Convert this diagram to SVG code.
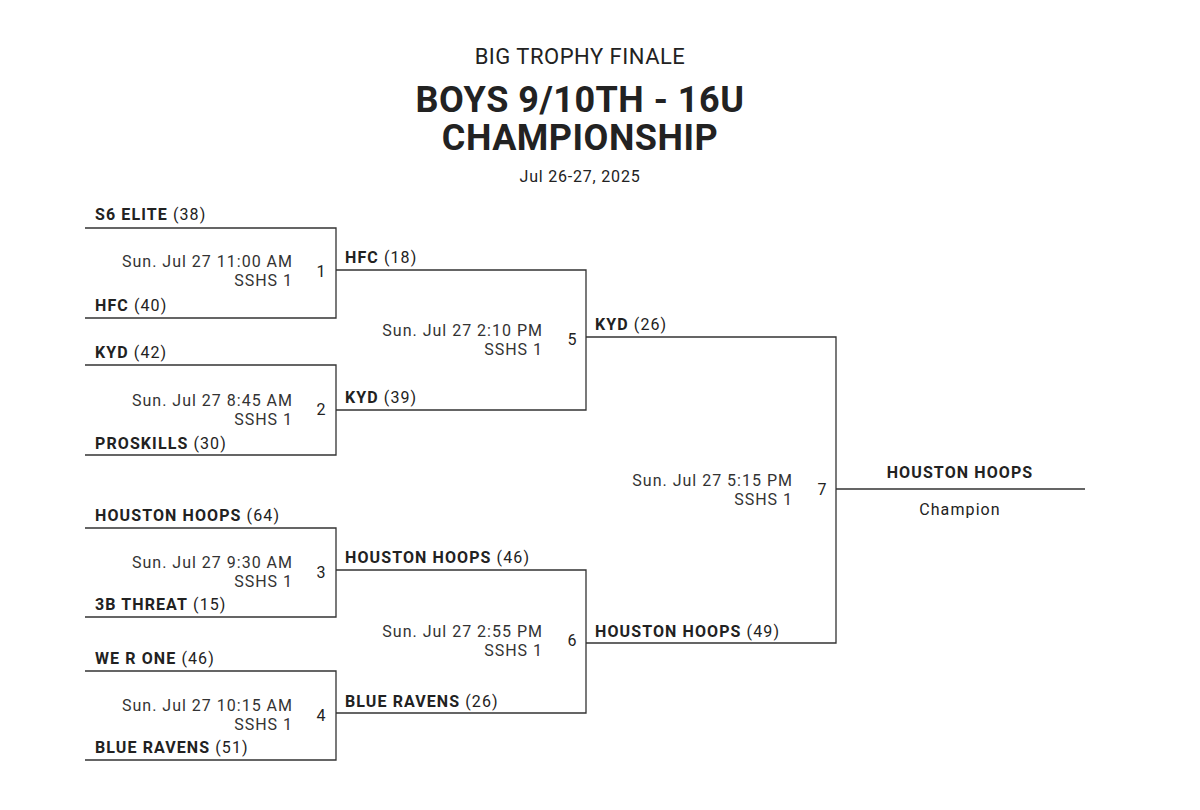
<svg xmlns="http://www.w3.org/2000/svg" width="1200" height="810" viewBox="0 0 1200 810">
<style>
text{font-family:Roboto,"Liberation Sans",sans-serif;fill:#222}
.t{font-size:16px;letter-spacing:1.1px}
.b{font-weight:bold}
.d{font-size:16px;letter-spacing:1px;text-anchor:end;fill:#333}
.n{font-size:16px;text-anchor:middle}
.l{fill:none;stroke:#333;stroke-width:1.3}
</style>
<rect width="1200" height="810" fill="#fff"/>
<g id="title">
<text x="580" y="64" font-size="22" text-anchor="middle" letter-spacing="0.5">BIG TROPHY FINALE</text>
<text x="580" y="112" font-size="36" font-weight="bold" text-anchor="middle" letter-spacing="0.5">BOYS 9/10TH - 16U</text>
<text x="580" y="150" font-size="36" font-weight="bold" text-anchor="middle" letter-spacing="0.5">CHAMPIONSHIP</text>
<text x="580" y="182" font-size="16" text-anchor="middle" fill="#444" letter-spacing="0.8">Jul 26-27, 2025</text>
</g>
<g id="connectors">
<path class="l" d="M85 228H336V318H85M336 270H586V410H336M85 365H336V455H85"/>
<path class="l" d="M85 528H336V617H85M336 570H586V713H336M85 671H336V760H85"/>
<path class="l" d="M586 337H836V643H586M836 489H1085"/>
</g>
<g id="m1">
<text class="t" x="95" y="220"><tspan class="b">S6 ELITE</tspan> (38)</text>
<text class="t" x="95" y="311"><tspan class="b">HFC</tspan> (40)</text>
<text class="d" x="293" y="267">Sun. Jul 27 11:00 AM</text><text class="d" x="293" y="286">SSHS 1</text>
<text class="n" x="321" y="277">1</text>
</g>
<g id="m2">
<text class="t" x="95" y="358"><tspan class="b">KYD</tspan> (42)</text>
<text class="t" x="95" y="449"><tspan class="b">PROSKILLS</tspan> (30)</text>
<text class="d" x="293" y="406">Sun. Jul 27 8:45 AM</text><text class="d" x="293" y="425">SSHS 1</text>
<text class="n" x="321" y="415">2</text>
</g>
<g id="m3">
<text class="t" x="95" y="521"><tspan class="b">HOUSTON HOOPS</tspan> (64)</text>
<text class="t" x="95" y="610"><tspan class="b">3B THREAT</tspan> (15)</text>
<text class="d" x="293" y="568">Sun. Jul 27 9:30 AM</text><text class="d" x="293" y="587">SSHS 1</text>
<text class="n" x="321" y="578">3</text>
</g>
<g id="m4">
<text class="t" x="95" y="664"><tspan class="b">WE R ONE</tspan> (46)</text>
<text class="t" x="95" y="753"><tspan class="b">BLUE RAVENS</tspan> (51)</text>
<text class="d" x="293" y="711">Sun. Jul 27 10:15 AM</text><text class="d" x="293" y="730">SSHS 1</text>
<text class="n" x="321" y="721">4</text>
</g>
<g id="m5">
<text class="t" x="345" y="263"><tspan class="b">HFC</tspan> (18)</text>
<text class="t" x="345" y="403"><tspan class="b">KYD</tspan> (39)</text>
<text class="d" x="543" y="336">Sun. Jul 27 2:10 PM</text><text class="d" x="543" y="355">SSHS 1</text>
<text class="n" x="572" y="345">5</text>
</g>
<g id="m6">
<text class="t" x="345" y="563"><tspan class="b">HOUSTON HOOPS</tspan> (46)</text>
<text class="t" x="345" y="707"><tspan class="b">BLUE RAVENS</tspan> (26)</text>
<text class="d" x="543" y="637">Sun. Jul 27 2:55 PM</text><text class="d" x="543" y="656">SSHS 1</text>
<text class="n" x="572" y="646">6</text>
</g>
<g id="m7">
<text class="t" x="595" y="330"><tspan class="b">KYD</tspan> (26)</text>
<text class="t" x="595" y="637"><tspan class="b">HOUSTON HOOPS</tspan> (49)</text>
<text class="d" x="793" y="486">Sun. Jul 27 5:15 PM</text><text class="d" x="793" y="505">SSHS 1</text>
<text class="n" x="822" y="495">7</text>
</g>
<g id="champion">
<text class="t b" x="960" y="478" text-anchor="middle">HOUSTON HOOPS</text>
<text class="t" x="960" y="515" text-anchor="middle" fill="#333">Champion</text>
</g>
</svg>
